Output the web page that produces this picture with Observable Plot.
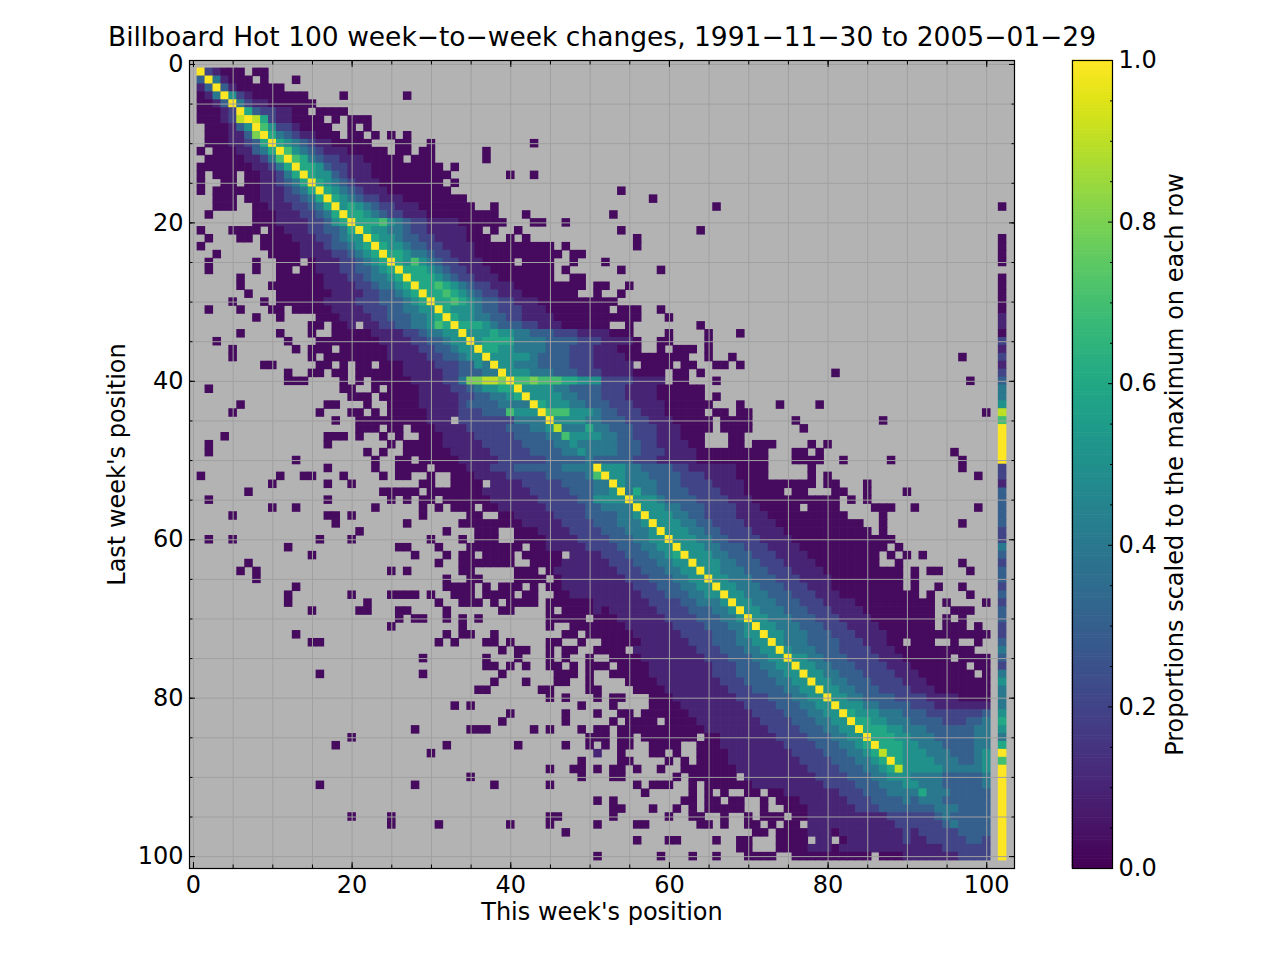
<!DOCTYPE html>
<html><head><meta charset="utf-8">
<script src="https://cdn.jsdelivr.net/npm/d3@7"></script>
<script src="https://cdn.jsdelivr.net/npm/@observablehq/plot@0.6"></script>
<style>
html,body{margin:0;padding:0;background:#fff;}
#wrap{position:relative;width:1280px;height:960px;}
#wrap svg{position:absolute;left:0;top:0;}
</style></head><body><div id="wrap"></div>
<script>
const title = "Billboard Hot 100 week\u2212to\u2212week changes, 1991\u221211\u221230 to 2005\u221201\u221229";
const xLabel = "This week's position";
const yLabel = "Last week's position";
const cbLabel = "Proportions scaled to the maximum on each row";
const majorTicks = [0, 20, 40, 60, 80, 100];
const minorTicks = [0, 5, 10, 15, 20, 25, 30, 35, 40, 45, 50, 55, 60, 65, 70, 75, 80, 85, 90, 95, 100];
const cbMajor = [0, 0.2, 0.4, 0.6, 0.8, 1.0];
const cbMinor = [0.05, 0.1, 0.15, 0.25, 0.3, 0.35, 0.45, 0.5, 0.55, 0.65, 0.7, 0.75, 0.85, 0.9, 0.95];
// cell codes: "." = no data, "0".."9" = tenths, "X" = 1.0
const levels = {"0": 0.03, "1": 0.1, "2": 0.2, "3": 0.3, "4": 0.4, "5": 0.5, "6": 0.6, "7": 0.7, "8": 0.8, "9": 0.9, "X": 1.0};
const E = "..........";
// rows 1..100 (last week's position), 10 groups of 10 columns (this week's position 1..100)
const rowCodes = [
["X21000.00."],
["3X41000.0.","..0......."],
["13X3100000","0........."],
["014X521000","0000....0.","......0..."],
["0013X42110","00000....."],
["00012X6322","1100.0000."],
["000129X962","110000.0.0","00........"],
[".000135X75","2210000..0",".0........"],
[".0001138X6","43211000.0","0.0.0.0..."],
[".00011236X","6543211000","00...00..0",E,"..0......."],
["0.00011346","X754321110","0000.00.00","......0..."],
[".000001124","7X76432211","100000.000","......0..."],
["0000000112","46X6653221","1100000000","0.0......."],
["0.000.0011","246X655321","1100000000","00.......0","..0......."],
["0..00.0011","2346X65432","1110000000","0.0......."],
["0.00000011","12346X6543","2111000000","00........",E,"...0......"],
["..000.0011","122346X654","3221110000","0000......",E,".......0.."],
["..000..001","1122346X56","5432211100","00000..0..",E,E,".....0...."],
[".0.....000","11122346X6","6543221110","00000000..",".0........","..0......."],
[".......000","111122356X","6667543221","111000000.","..00..0..."],
["0...0000.0","0111223346","X655443221","111100.0..","0.........","...0......","...0......"],
[".0...00.00","0011122345","5X65543322","1111000..0",".0........",".....0...."],
["0.......00","0001112334","56X6554332","2111100000","00000.0...",".....0...."],
["..0......0","0001111223","456X665443","2211100000","000000.00."],
[".0.....0..","000.011122","3456X65754","3221110000",".0000..0..",".0........"],
[".0.....0..","00.0011122","33456X6665","4322111000","00000.0...","...0....0."],
[".....0....","0000001112","234456X666","5432211100","00000..00."],
[".....0...0","0000001111","2234456X66","7654322111","000000000.","00..0....."],
["......0...","0000000111","12233456X6","6765432211","10000000..","0..0......"],
["....0...0.","0000001111","222333456X","6676543322","1110000000","000......."],
[".0...0...0","0.00000111","1222334455","X655543322","2111000000","00.000..0."],
[".......0..","0....00011","1122333445","6X65544332","2111100000","000000...0"],
[E,"....00.001",".112233445","76X6665433","3221110000","00..0.....","...0......"],
[".....0....","0...0..000","0011112234","455X555655","4433322211","11000....0","....0...0."],
["..0.......",".0...00000","0001111223","3455X56666","4444333322","211110..00","....0....."],
["....0.....","..0.000.00","0000111122","33455X6655","4444333222","111000..0.","000.0....."],
["....0.....","....0.0000","0000111112","233455X555","5543333222","1111000000","00..0..0..",E,E,"......0..."],
["........00",".....00.0.","00.0001111","2223354X55","4443333222","11111.0000",".00..00.0."],
[E,".0..00.00.","0000001111","12233344X5","5544433322","211110000.","00.0......",E,"0........."],
[E,".000....0.","0.00000111","122488998X","7787776655","522221111.","00...0....",E,E,".......0.."],
[".0........","........00","..0.000011","1122345566","X555544333","3222111100","0000......"],
[E,".........0","00.0000011","1112233445","6X55554433","3222111100","0000.0...."],
[".....0....","......00..",".0..000011","1112333344","44X6555443","3322211110","00000...0.","...0....0."],
["....0.....",".....0...0","0.0.000001","1112223337","555X777555","4332221110","0000.00.00",E,E,".........0"],
[E,".......0..","0000000001","11.2222222","4444X55554","4333222111","00000.0000",".....0....","......0..."],
[E,E,"000.00.000","1111222223","3344594446","4433322211","10000.0000","......0..."],
["...0......","......000.","0..0.0..00","0111122222","3333447555","5443322211","1000...00."],
[".0........","......0...","....0.0000","0111112222","2333344544","4443332211","1100...00.","000....0.0"],
[".0........",E,".0.0..0000","0011111222","2233334454","4443332221","1110000000","00...00.0.",E,".....0...."],
[E,"..0.......","..0..00.00","0001111122","2222333334","3333322211","1110000000","00...0000.",".0.....0..","......0..."],
[E,"......0...","..0..0000.","0000111222","3333334444","X555443333","2211111100","00.....0..",E,"......0..."],
["0.........","0..00...0.","...0.00..0","..00011112","2222333334","7X55444333","3222111100","00.....0.0",E,"........0."],
[".........0","......0..0","........00","..0000.111","1222223333","44X5444433","3222211110","00000000.0","0...0....."],
["......0...",E,"...00000.0","0000001111","1122222333","445X464433","3322221110","0000.00...","00..0....0"],
[".0........","......0...","....0.0.00",".000000111","1112222233","5555X55543","3332222111","0000000000","0.0.0....."],
[".........0","..0.......","..0.....0.","0.000.0011","1111222223","34444X5554","4333222211","100000.000","0....000..","0.......0."],
["....0.....","......00.0","........0.","....00..00","1111122223","333445X555","4433222211","1100000000","00....0..."],
[E,".......0..","......0...","...0000000","0111112222","3334445X55","5443322221","1110000000","0000..0...","......0..."],
[E,E,"0.........",".0...000..","0001111222","23334445X5","5544332222","1111000000","00000.0..."],
[".0..0.....",".....0...0",".........0","...0.000..","0000111122","223334455X","5554433222","2111100000","00000000.."],
[E,".0........",".....00...","0...000000","0.00111112","2223334455","X555443332","2211110000","0000000.0."],
[E,"....0.....",".......0..",".0.00.0000",".00000.111","1222333445","6X55544333","2221111000","000000.0.0",".0........"],
["......0...",E,E,"0..0000000","..00001111","1122233344","55X5554433","3222111100","000000..0.","......0..."],
[".....0.0..",E,"....0.0...","...00.....","000.011111","1112223334","455X554443","3322211110","000000000.","0.00...0.."],
[".......0..",E,E,".0..00....","0000.01111","1111222333","4455X55444","3332221111","000000000.","0........."],
[E,"..0.......",E,".0000.0.00","0.0.001111","1111122233","34455X5544","4333222111","000000000.","0..0..0..."],
[E,".0.......0","....0000.0","..000.0000",".00..00111","1111112223","334455X554","4433322211","1000000000","0.0....0.."],
[E,".0........",".0........","0..000.0.0","000.000000","1111111222","2334445X55","4443332221","1110000000","000.0....0"],
[E,"....0.....","00...00...",".0......00","....0.0000","1011111122","22333445X5","5444333222","1111000000","000..000.."],
[E,E,".....0.00.",".0.0.0....","....00000.","0001111112","222333445X","5544433322","2111100000","000.0.0..."],
[E,E,"....0.....","...0......","....0..000","0000111111","2222333445","X554443332","2211110000","000.000.0."],
[E,"..0.......",E,".0.00..0..","......00.0","0000011111","1222233345","5X55444333","2221111000","0000000000"],
[E,"....00....",E,"0.0...00.0","....00..0.",".000001111","1122233344","55X5444333","322211100.","000..0..0."],
[E,E,E,"........0.","00..0.00..","0000.11111","1112223334","455X544433","3222211100","00000000.."],
[E,E,"........0.","......0...","0...0.0..0","..00001111","1111222333","4455X55443","3322221110","00000.0000"],
[E,E,E,"......00.0",".0..00.0.0","00.0000111","1111122233","34455X5544","3332222111","0000000.00"],
[E,".....0....","........0.","........0.",".....000.0","..00000111","1111122233","334455X554","4333222211","10000000.0"],
[E,E,E,".......0..",".0...00..0","....000011","1111112223","3334455X55","4433322221","1100000000"],
[E,E,E,".....00...","...00....0","0....00001","1111111222","33334455X5","5443332222","1110000000"],
[E,E,E,E,"....0.0...","0.00...000","1111111122","223334455X","5544333322","2211110000"],
[E,E,E,"..0.0.....","........0.","..0....000","0111111112","2223334455","X555443333","2221111111"],
[E,E,E,".........0","......0...","0..00.0000","0011111111","2222333445","5X65554443","3322222223"],
[E,E,E,"........0.","......0...","..0.0000.0","0001111111","1222233344","55X6655444","3333222334"],
[E,E,".......0..","....000...","..0.0...0.","00.0000000","0000111111","1122223334","455X666554","4433333344"],
[E,".........0",E,E,".........0","00.00.0000","000.001111","1112222333","4455X66655","4443333344"],
[E,".......0..",E,".0........","0.....0..0",".0.00..000","0..0001111","1111222233","34456X6665","5444333344"],
[E,E,".........0",E,E,"1..0...00.","0..0000111","1111122223","3344569665","5544433345"],
[E,E,E,E,"........0.","...00....0",".0.0000111","1111112222","3334456X65","5554443345"],
[E,E,E,E,"....0..00.","0.00.0..0.",".000000011","1111111222","2333445695","5555444445"],
[E,E,E,"....0.....","........0.","..00......","0.000000.1","1111111122","2233344555","4444333334"],
[E,".....0....",".......0..",".......0..","....0.....",".....0.000","..0.000000","1111111112","2223334445","5444333334"],
[E,E,E,E,E,"......0...","..0.0.0..0","0.00111111","1222333444","4644433333"],
[E,E,E,E,E,"0.0.......",".00.00.00.",".0.0001111","1122233334","3444333333"],
[E,E,E,E,E,"..00...0..","0.0.00000.",".0..000111","1112223333","3334443333"],
[E,".........0","....0.....",E,"....00....","..0......0","..00..0..0",".000.00111","1111111222","2223433333"],
[E,E,"....0.....","0........0","....0.....","0....00...","...00.0..0","0.0.00.111","1111111122","2222343333"],
[E,E,E,E,"......0...",E,E,"00.0000111","0111111112","1222223333"],
[E,E,E,E,E,".....0...0","0....0..00","...0000.11",".011111112","1122222332"],
[E,E,E,E,E,E,"........00","...0000111","0111111111","1111222222"],
[E,E,E,E,E,"0.......0.","..0..0...0","000..00000","00000.0001","1111112222"]
];
// column 102 = dropped off the chart, rows 1..100
const droppedColumn = 102;
const droppedCodes = [E, ".......0..", ".0000.0000", "0110212123", "44597XXXXX",
  "2213333322", "4323323233", "2234324544", "456546X7XX", "XXXXXXXXXX"].join("");

const cells = [];
rowCodes.forEach((groups, i) => {
  const r = i + 1;
  const s = d3.range(10).map(g => (groups[g] || E).padEnd(10, ".").slice(0, 10)).join("");
  for (let j = 0; j < 100; j++) {
    const ch = s[j];
    if (ch in levels) cells.push({r, c: j + 1, v: levels[ch]});
  }
});
for (let i = 0; i < 100; i++) {
  const ch = droppedCodes[i];
  if (ch in levels) cells.push({r: i + 1, c: droppedColumn, v: levels[ch]});
}

const font = "'DejaVu Sans', sans-serif";
const style = {fontFamily: font, fontSize: "24px", color: "black", background: "transparent", overflow: "visible"};
const gridColor = "#a0a0a0";
const centered = {textAnchor: "middle", lineAnchor: "middle"};

const main = Plot.plot({
  width: 1280, height: 960,
  marginLeft: 189, marginRight: 266, marginTop: 60, marginBottom: 92,
  x: {domain: [-0.5, 103.5]},
  y: {domain: [-0.5, 101.5], reverse: true},
  color: {type: "linear", scheme: "viridis", domain: [0, 1]},
  style,
  marks: [
    Plot.frame({fill: "#b3b3b3", stroke: "none"}),
    Plot.rect(cells, {x1: d => d.c - 0.5, x2: d => d.c + 0.5, y1: d => d.r - 0.5, y2: d => d.r + 0.5, fill: "v", inset: -0.3}),
    Plot.gridX(minorTicks, {stroke: gridColor, strokeOpacity: 1, strokeWidth: 1}),
    Plot.gridY(minorTicks, {stroke: gridColor, strokeOpacity: 1, strokeWidth: 1}),
    Plot.axisX(majorTicks, {anchor: "bottom", tickSize: 0, tickPadding: 7, label: null, fontSize: 24}),
    Plot.axisY(majorTicks, {anchor: "left", tickSize: 0, tickPadding: 6, label: null, fontSize: 24}),
    Plot.axisX(majorTicks, {anchor: "bottom", tickSize: -6, fill: "none"}),
    Plot.axisX(minorTicks, {anchor: "bottom", tickSize: -3.5, fill: "none"}),
    Plot.axisX(majorTicks, {anchor: "top", tickSize: -6, fill: "none"}),
    Plot.axisX(minorTicks, {anchor: "top", tickSize: -3.5, fill: "none"}),
    Plot.axisY(majorTicks, {anchor: "left", tickSize: -6, fill: "none"}),
    Plot.axisY(minorTicks, {anchor: "left", tickSize: -3.5, fill: "none"}),
    Plot.axisY(majorTicks, {anchor: "right", tickSize: -6, fill: "none"}),
    Plot.axisY(minorTicks, {anchor: "right", tickSize: -3.5, fill: "none"}),
    Plot.frame({stroke: "black", strokeWidth: 1.2}),
    Plot.text([title], {text: d => d, frameAnchor: "top", dy: -23, fontSize: 26.5, ...centered}),
    Plot.text([xLabel], {text: d => d, frameAnchor: "bottom", dy: 44, fontSize: 24, ...centered}),
    Plot.text([yLabel], {text: d => d, frameAnchor: "left", dx: -72, rotate: -90, fontSize: 24, ...centered})
  ]
});

const cbSteps = d3.range(256);
const cbar = Plot.plot({
  width: 1280, height: 960,
  marginLeft: 1072, marginRight: 168, marginTop: 60, marginBottom: 92,
  x: {domain: [0, 1], axis: null},
  y: {domain: [0, 1]},
  color: {type: "linear", scheme: "viridis", domain: [0, 1]},
  style,
  marks: [
    Plot.rect(cbSteps, {x1: 0, x2: 1, y1: i => i / 256, y2: i => (i + 1) / 256, fill: i => (i + 0.5) / 256, inset: -0.3}),
    Plot.axisY(cbMajor, {anchor: "right", tickSize: 0, tickPadding: 6, tickFormat: d3.format(".1f"), label: null, fontSize: 24}),
    Plot.axisY(cbMajor, {anchor: "right", tickSize: -5, fill: "none"}),
    Plot.axisY(cbMinor, {anchor: "right", tickSize: -3, fill: "none"}),
    Plot.frame({stroke: "black", strokeWidth: 1.2}),
    Plot.text([cbLabel], {text: d => d, frameAnchor: "right", dx: 63, rotate: -90, fontSize: 24, ...centered})
  ]
});

const wrap = document.getElementById("wrap");
wrap.appendChild(main);
wrap.appendChild(cbar);
</script></body></html>
